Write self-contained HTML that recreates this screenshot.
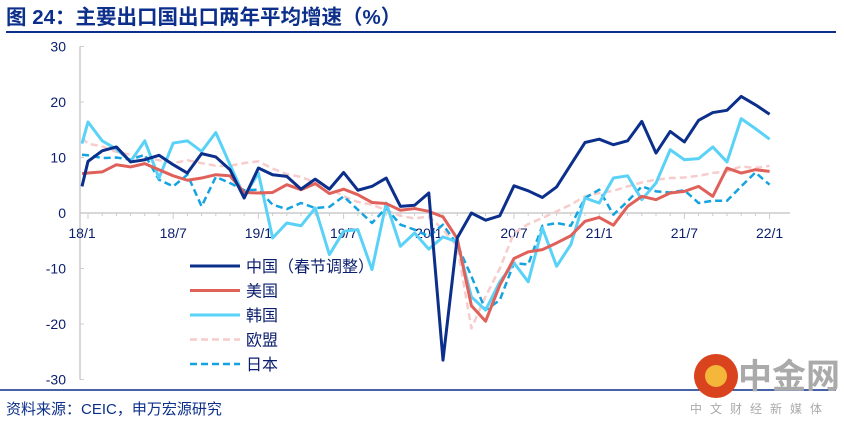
<!DOCTYPE html>
<html><head><meta charset="utf-8"><style>
body{margin:0;background:#fff;width:844px;height:427px;overflow:hidden;font-family:"Liberation Sans","Noto Sans CJK SC",sans-serif;}
</style></head><body>
<svg width="844" height="427" xmlns="http://www.w3.org/2000/svg">
<text x="6" y="24" font-size="20.5" font-weight="bold" fill="#0b2f8a" font-family="Liberation Sans,Noto Sans CJK SC,sans-serif">图 24：主要出口国出口两年平均增速（%）</text>
<line x1="6" y1="32" x2="836" y2="32" stroke="#0b2f8a" stroke-width="2"/>
<line x1="0" y1="390" x2="836" y2="390" stroke="#0b2f8a" stroke-width="1.5"/>
<text x="6" y="414" font-size="15" fill="#0b2f8a" font-family="Liberation Sans,Noto Sans CJK SC,sans-serif">资料来源：CEIC，申万宏源研究</text>
<g id="wm">
<circle cx="716" cy="376" r="22" fill="#d9431e"/>
<circle cx="716" cy="376" r="11" fill="#f5b73a"/>
<text x="738" y="388" font-size="34" font-weight="bold" fill="#aaa" font-family="Noto Sans CJK SC,sans-serif">中金网</text>
<text x="690" y="413" font-size="12" fill="#aaa" letter-spacing="8" font-family="Noto Sans CJK SC,sans-serif">中文财经新媒体</text>
</g>
<g id="axes"></g>
<g id="series"></g>
<g id="legend"></g>
</svg>
<script>
const yTicks=[30,20,10,0,-10,-20,-30];
const xTickLabels=["18/1","18/7","19/1","19/7","20/1","20/7","21/1","21/7","22/1"];
const startValues=[4.8,7.1,12.5,13.5,10.5];
const china=[9.3,11.2,11.9,9.2,9.6,10.4,8.7,7.2,10.7,10.1,7.8,2.7, 8.1,6.9,6.6,4.3,6.1,4.3,7.3,4.1,4.8,6.3,1.2,1.4, 3.6,-26.5,-4.5,0,-1.3,-0.5,4.9,4,2.8,4.7,8.7,12.7, 13.3,12.3,13,16.5,10.8,14.7,12.8,16.7,18.1,18.5,21,19.5, 17.8];
const usa=[7.2,7.4,8.7,8.3,8.9,7.8,6.7,5.9,6.3,6.9,6.7,3.7, 3.6,3.7,5.1,4.2,5.3,3.5,4.3,3.3,1.9,1.7,0.5,0.8, 0.3,-0.7,-4.6,-16.7,-19.5,-13,-8.2,-7,-6.6,-5.4,-4.1,-1.5, -0.8,-2.2,1.2,3,2.4,3.6,3.9,4.8,3,8.1,7.2,7.8, 7.5];
const korea=[16.4,13,11.5,9.3,13,6.3,12.6,13,11.1,14.5,8.7,3, 7.2,-4.5,-1.8,-2.3,0.9,-7.5,-3.3,-3,-10.2,1.8,-6,-3.6, -6.5,-4.3,-5.2,-15.1,-17.5,-12.4,-9,-12.4,-2.7,-9.6,-5.7,2.7, 1.8,6.3,6.7,2.4,5.4,11.4,9.6,9.8,11.9,9.2,17,15.2, 13.3];
const eu=[12.5,12,11,10.5,10,9.5,9,9.5,9,8.5,8.5,9, 9.3,8,7,6.5,5.5,4.5,3,2,1.5,0.5,-0.5,-1, -0.6,-3,-6,-20.8,-15,-10,-3.6,-2,-0.9,0.3,1.5,3, 3.6,4,4.8,5.5,6,6.3,6.4,6.7,7.2,7.5,8.4,8.1, 8.5];
const japan=[10.4,9.9,10,9.6,10.5,6,4.8,6.9,1.2,6.5,5.4,4.1, 4.2,1.5,0.7,1.8,0.9,1.1,3,0.6,-1.8,0.9,-2.1,-3, -4.2,-2.1,-5.7,-11.4,-17.5,-15.7,-9,-9.3,-2.3,-1.8,-2.3,2.7, 4.2,-0.3,2.1,4.8,3.9,3.7,4.1,1.8,2.2,2.2,4.8,7.3, 5.1];
const seriesNames=["中国（春节调整）","美国","韩国","欧盟","日本"];

const NS="http://www.w3.org/2000/svg";
const X0=88,STEP=14.2,YZ=213,YS=5.55;
const xs=i=>X0+i*STEP, ys=v=>YZ-v*YS;
function mk(tag,attrs,parent){const e=document.createElementNS(NS,tag);for(const k in attrs)e.setAttribute(k,attrs[k]);parent.appendChild(e);return e;}
const axes=document.getElementById('axes');
const ya=mk('line',{x1:80,y1:ys(30),x2:80,y2:ys(-30),stroke:'#ccc','stroke-width':1.5},axes);


yTicks.forEach(v=>{
  const t=mk('text',{x:66,y:ys(v)+5,'text-anchor':'end','font-size':14,fill:'#0b1e6e'},axes);
  t.textContent=v;
  
  
  mk('line',{x1:80,y1:ys(v),x2:84,y2:ys(v),stroke:'#ccc'},axes);
});
const xa=mk('line',{x1:80,y1:YZ,x2:790,y2:YZ,stroke:'#ccc','stroke-width':1.5},axes);


for(let i=0;i<china.length;i++){mk('line',{x1:xs(i),y1:YZ,x2:xs(i),y2:YZ+(i%6==0?6:3),stroke:'#ccc'},axes);}
xTickLabels.forEach((l,k)=>{
  const t=mk('text',{x:k==0?82:xs(k*6),y:YZ+25,'text-anchor':'middle','font-size':14,fill:'#0b1e6e'},axes);
  t.textContent=l;
  
  
});
const styles=[
 {d:china,c:'#0b2f8a',w:3,da:''},
 {d:usa,c:'#e0605a',w:3,da:''},
 {d:korea,c:'#5ad2f7',w:3,da:''},
 {d:eu,c:'#f7cccc',w:2.5,da:'7,4'},
 {d:japan,c:'#14a3e0',w:2.5,da:'7,4'}];
const sg=document.getElementById('series');
const order=[3,4,2,1,0];
order.forEach(k=>{
  const s=styles[k];
  const pts=[(82)+','+ys(startValues[k])].concat(s.d.map((v,i)=>xs(i)+','+ys(v)));
  const p=mk('polyline',{points:pts.join(' '),fill:'none',stroke:s.c,'stroke-width':s.w,'stroke-dasharray':s.da,'stroke-linejoin':'round'},sg);
  
  
});
const lg=document.getElementById('legend');
seriesNames.forEach((n,k)=>{
  const y=266+k*24.5, s=styles[k];
  const g=mk('g',{},lg);
  
  
  mk('line',{x1:190,y1:y,x2:240,y2:y,stroke:s.c,'stroke-width':s.w,'stroke-dasharray':s.da},g);
  const t=mk('text',{x:246,y:y+6,'font-size':16,fill:'#0b1e6e'},g);
  t.textContent=n;
});
</script>
</body></html>
